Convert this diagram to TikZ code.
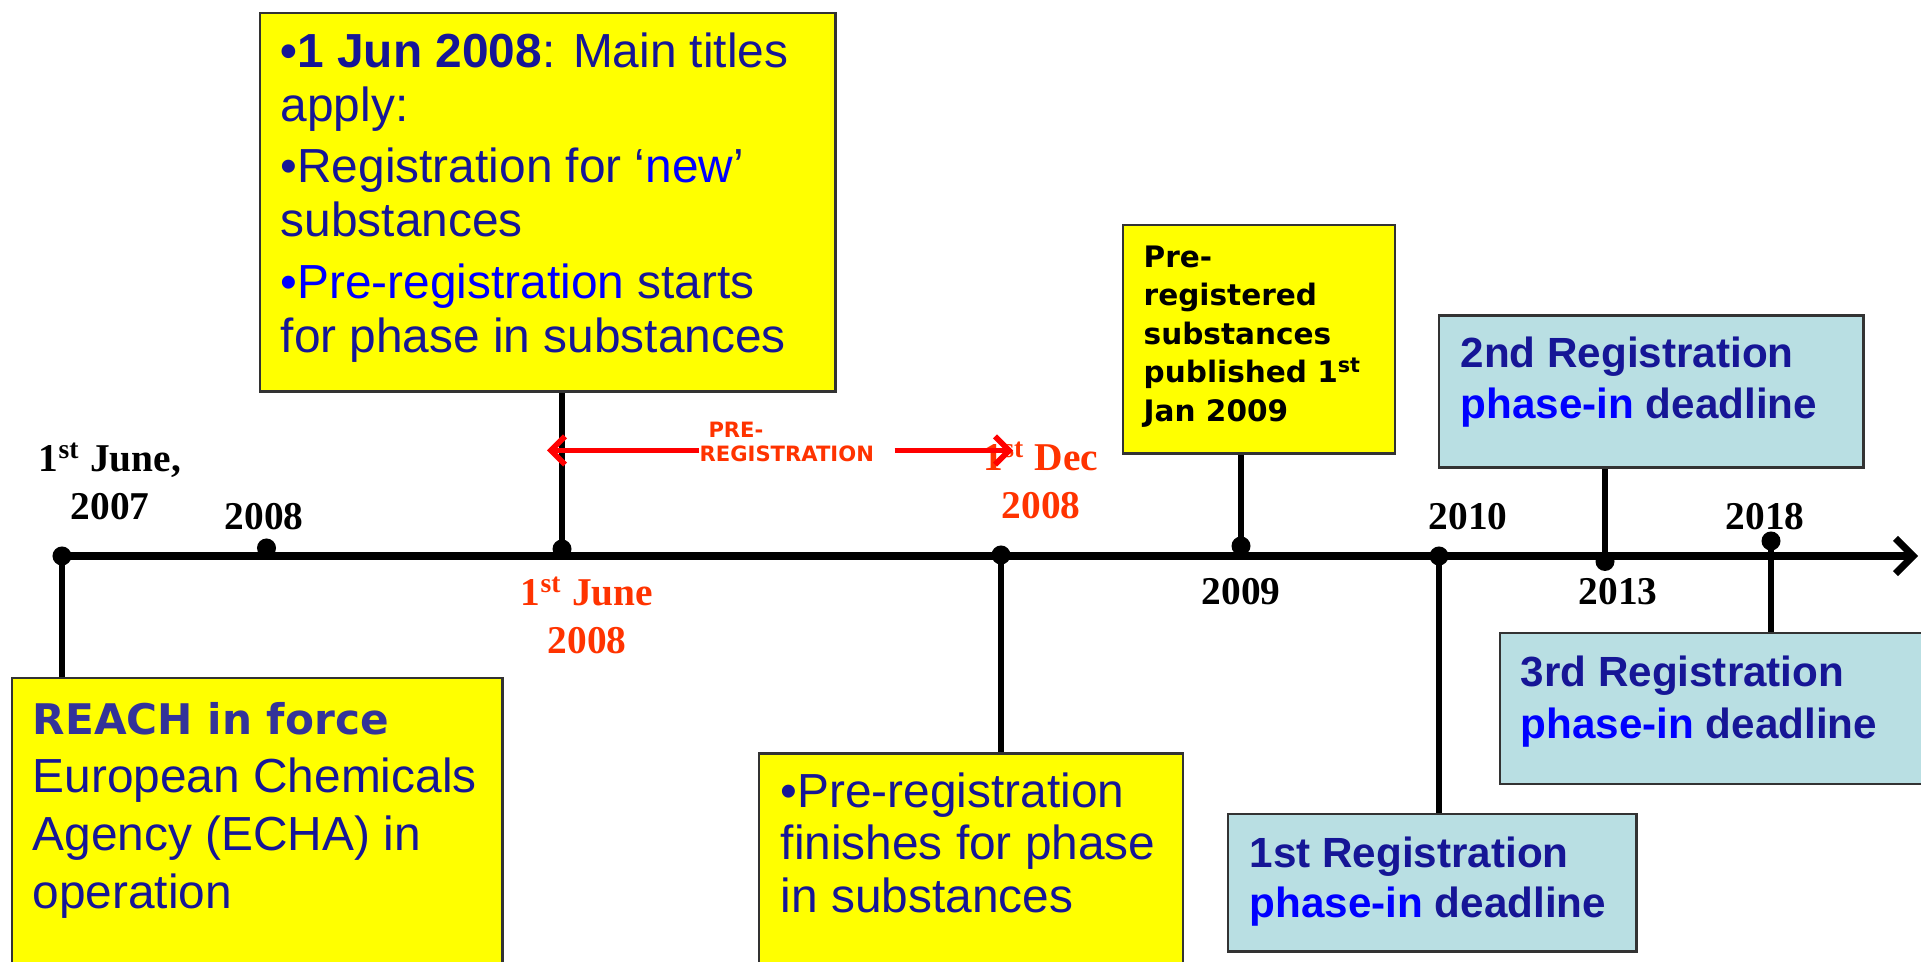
\documentclass[tikz,border=0pt]{standalone}
\usepackage{fontspec}
\setmainfont{Liberation Serif}
\newfontfamily\arialfont{Liberation Sans}
\newfontfamily\tahomafont{DejaVu Sans}
\usetikzlibrary{arrows.meta, positioning, calc}
\definecolor{boxyellow}{RGB}{255,255,0}
\definecolor{boxcyan}{RGB}{185,223,227}
\definecolor{navytext}{RGB}{22,22,150}
\definecolor{reachblue}{RGB}{51,51,153}
\definecolor{brightblue}{RGB}{0,0,255}
\definecolor{datered}{RGB}{255,51,0}

\begin{document}
\begin{tikzpicture}[x=0.01cm, y=-0.01cm,
  dot/.style={circle, fill=black, inner sep=0pt, minimum size=0.19cm},
  axis/.style={line width=2pt, -{Straight Barb[length=5pt,width=10pt]}},
  stem/.style={line width=1.8pt},
  ybox/.style={draw=black!80, line width=0.7pt, fill=boxyellow, inner sep=0pt, anchor=north west},
  cbox/.style={ybox, fill=boxcyan},
  boxtext/.style={anchor=north west, inner sep=0pt, align=left, text=navytext},
  datelbl/.style={align=center, inner sep=0pt, font=\bfseries\fontsize{11.2}{13.4}\selectfont},
  prearrow/.style={draw=red, line width=1.6pt, -{Straight Barb[length=4pt,width=8pt]}}
]
\useasboundingbox (0,0) rectangle (1921,962);

% boxes
\node[ybox, minimum width=5.755cm, minimum height=3.78cm] (junbox) at (258.5,12) {};
\node[boxtext, font=\arialfont\fontsize{13.6}{15.4}\selectfont] (juntxt) at (280,32)
  {\textbf{•1 Jun 2008}: Main titles\\apply:\\[2pt]
   •Registration for ‘\textcolor{brightblue}{new}’\\substances\\[2pt]
   \textcolor{brightblue}{•Pre-registration} starts\\for phase in substances};

\node[ybox, minimum width=4.9cm, minimum height=3.0cm] (reachbox) at (11,677) {};
\node[boxtext, font=\arialfont\fontsize{13.6}{16.5}\selectfont] (reachtxt) at (32,702)
  {{\tahomafont\bfseries\fontsize{12}{16.5}\selectfont\color{reachblue}REACH in force}\\
   European Chemicals\\Agency (ECHA) in\\operation};

\node[ybox, minimum width=4.235cm, minimum height=2.3cm] (finbox) at (758,752.5) {};
\node[boxtext, font=\arialfont\fontsize{13.6}{14.9}\selectfont] (fintxt) at (780,772)
  {•Pre-registration\\finishes for phase\\in substances};

\node[ybox, minimum width=2.72cm, minimum height=2.28cm] (pubbox) at (1121.5,224) {};
\node[boxtext, text=black, font=\tahomafont\bfseries\fontsize{8.4}{10.95}\selectfont] (pubtxt) at (1143,245)
  {Pre-\\registered\\substances\\published 1\textsuperscript{st}\\Jan 2009};

\node[cbox, minimum width=4.24cm, minimum height=1.515cm] (reg2box) at (1438,314.5) {};
\node[boxtext, font=\arialfont\bfseries\fontsize{12}{14.4}\selectfont] (reg2txt) at (1460,336.5)
  {2nd Registration\\\textcolor{brightblue}{phase-in} deadline};

\node[cbox, minimum width=4.4cm, minimum height=1.507cm] (reg3box) at (1499,632) {};
\node[boxtext, font=\arialfont\bfseries\fontsize{12}{14.8}\selectfont] (reg3txt) at (1520,655.5)
  {3rd Registration\\\textcolor{brightblue}{phase-in} deadline};

\node[cbox, minimum width=4.085cm, minimum height=1.373cm] (reg1box) at (1226.5,812.7) {};
\node[boxtext, font=\arialfont\bfseries\fontsize{12}{14.2}\selectfont] (reg1txt) at (1249,836.5)
  {1st Registration\\\textcolor{brightblue}{phase-in} deadline};

% time line
\node[dot] (d07) at (62,556) {};
\node[dot] (d08) at (266.5,548) {};
\node[dot] (djun) at (562,549) {};
\node[dot] (ddec) at (1001,555) {};
\node[dot] (d09) at (1241,546) {};
\node[dot] (d10) at (1439,556) {};
\node[dot] (d13) at (1605,561.5) {};
\node[dot] (d18) at (1771,541) {};
\coordinate (tlend) at (1918,556);
\draw[axis] (d07.center) -- (tlend);

\draw[stem] (d07.center) -- (d07 |- reachbox.north);
\draw[stem] (djun.center) -- (djun |- junbox.south);
\draw[stem] (ddec.center) -- (ddec |- finbox.north);
\draw[stem] (d09.center) -- (d09 |- pubbox.south);
\draw[stem] (d10.center) -- (d10 |- reg1box.north);
\draw[stem] (d13.center) -- (d13 |- reg2box.south);
\draw[stem] (d18.center) -- (d18 |- reg3box.north);

% dates
\node[datelbl] (l07) at (110,481) {1\textsuperscript{st} June,\\2007};
\node[datelbl] (l08) at (264,517) {2008};
\node[datelbl, text=datered] (ljun) at (587,615) {1\textsuperscript{st} June\\2008};
\node[datelbl, text=datered] (ldec) at (1041,480) {1\textsuperscript{st} Dec\\2008};
\node[datelbl] (l09) at (1241,592) {2009};
\node[datelbl] (l10) at (1468,517) {2010};
\node[datelbl] (l13) at (1618,592) {2013};
\node[datelbl] (l18) at (1765,517) {2018};

% pre-registration period
\node[align=left, text=datered, inner sep=0pt, anchor=west,
      font=\tahomafont\bfseries\fontsize{6}{6.6}\selectfont] (prelab) at (699,442)
  {\hspace{2.5pt}PRE-\\REGISTRATION};
\coordinate (prelt) at (547,450.5);
\coordinate (prert) at (1013,450.5);
\draw[prearrow] (prelab.west |- prelt) -- (prelt);
\draw[prearrow] ($(prelab.east |- prert)+(20,0)$) -- (prert);
\end{tikzpicture}
\end{document}
